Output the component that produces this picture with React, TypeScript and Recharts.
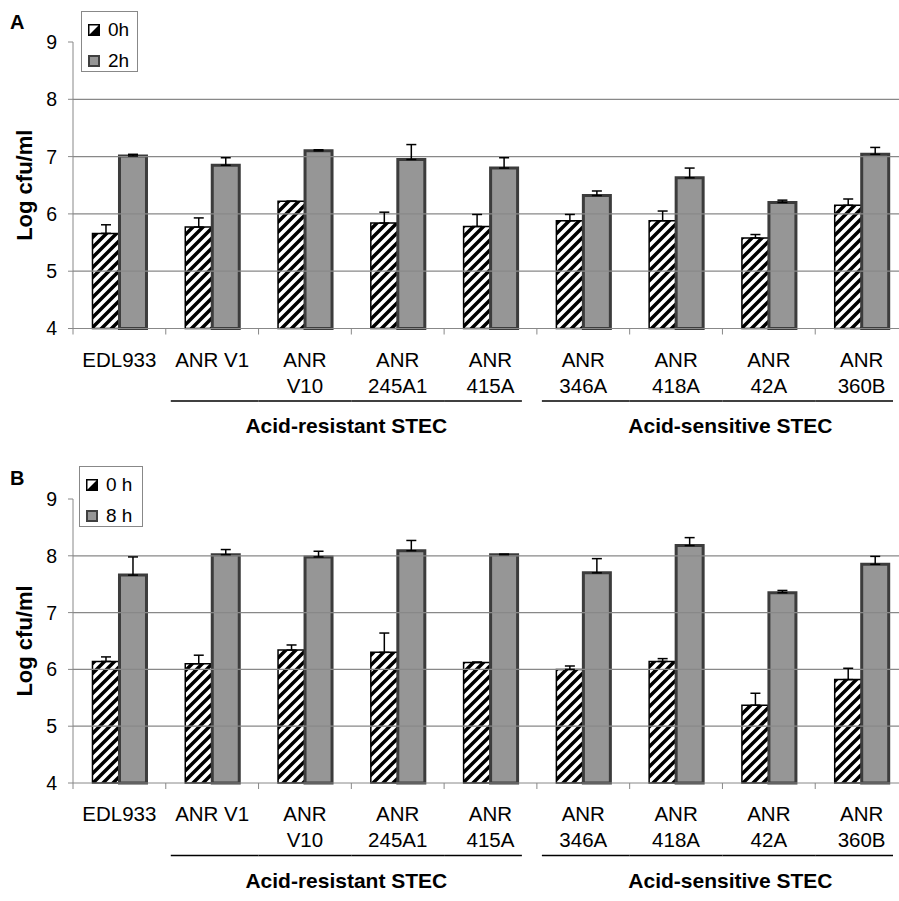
import React from 'react';
import { BarChart, Bar, XAxis, YAxis, ErrorBar, ReferenceLine } from 'recharts';

const categories = ['EDL933', 'ANR V1', 'ANR V10', 'ANR 245A1', 'ANR 415A', 'ANR 346A', 'ANR 418A', 'ANR 42A', 'ANR 360B'];
const tickLabels = ['EDL933', 'ANR V1', 'ANR\nV10', 'ANR\n245A1', 'ANR\n415A', 'ANR\n346A', 'ANR\n418A', 'ANR\n42A', 'ANR\n360B'];
const groups = [
  { name: 'Acid-resistant STEC', from: 1, to: 4 },
  { name: 'Acid-sensitive STEC', from: 5, to: 8 },
];
const yTicks = [4, 5, 6, 7, 8, 9];
const gridValues = [5, 6, 7, 8];

// panel A: 0h vs 2h
const a0h = [5.66, 5.77, 6.22, 5.84, 5.78, 5.88, 5.88, 5.58, 6.15];
const a0hErr = [0.15, 0.16, 0, 0.19, 0.21, 0.11, 0.17, 0.06, 0.11];
const a2h = [7.01, 6.85, 7.1, 6.95, 6.8, 6.32, 6.63, 6.2, 7.04];
const a2hErr = [0.03, 0.13, 0.02, 0.26, 0.18, 0.08, 0.17, 0.04, 0.12];

// panel B: 0h vs 8h
const b0h = [6.14, 6.1, 6.34, 6.3, 6.12, 6.0, 6.14, 5.37, 5.82];
const b0hErr = [0.08, 0.15, 0.09, 0.34, 0.01, 0.06, 0.05, 0.21, 0.2];
const b8h = [7.66, 8.02, 7.98, 8.09, 8.02, 7.7, 8.18, 7.35, 7.85];
const b8hErr = [0.32, 0.09, 0.1, 0.18, 0.01, 0.25, 0.14, 0.04, 0.14];

const CHART_W = 920;
const CHART_H = 450;
const Y_AXIS_W = 73;
const MARGIN_RIGHT = 12;
const STEP = (CHART_W - Y_AXIS_W - MARGIN_RIGHT) / categories.length;
const groupLabelShift = [0, 13];
const FONT = '"Liberation Sans", Arial, sans-serif';

const XTick = (props: any) => {
  const { x, y, index } = props;
  const lines = tickLabels[index].split('\n');
  const left = x - STEP / 2;
  const gi = groups.findIndex((g) => index >= g.from && index <= g.to);
  const g = groups[gi];
  return (
    <g>
      <line x1={left} x2={left} y1={y} y2={y + 6} stroke="#888" />
      {index === categories.length - 1 && <line x1={x + STEP / 2} x2={x + STEP / 2} y1={y} y2={y + 6} stroke="#888" />}
      <text x={x} y={y + 38} textAnchor="middle" fontSize={20.5} fill="#000">
        {lines.map((l: string, i: number) => (
          <tspan key={i} x={x} dy={i === 0 ? 0 : 26}>{l}</tspan>
        ))}
      </text>
      {g && (
        <line
          x1={index === g.from ? left + 5 : left}
          x2={index === g.to ? x + STEP / 2 - 15 : x + STEP / 2}
          y1={y + 72.5}
          y2={y + 72.5}
          stroke="#000"
          strokeWidth={1.5}
        />
      )}
      {g && index === g.from && (
        <text
          x={x + ((g.to - g.from) * STEP) / 2 - 5 + groupLabelShift[gi]}
          y={y + 104.5}
          textAnchor="middle"
          fontSize={21}
          fontWeight="bold"
          fill="#000"
        >
          {g.name}
        </text>
      )}
    </g>
  );
};

const Swatch = ({ hatched }: { hatched: boolean }) => (
  <svg width={12} height={12} style={{ display: 'block' }}>
    {hatched ? (
      <rect x={0.75} y={0.75} width={10.5} height={10.5} fill="url(#hatchSmall)" stroke="#000" strokeWidth={1.5} />
    ) : (
      <rect x={1} y={1} width={10} height={10} fill="#969696" stroke="#404040" strokeWidth={2} />
    )}
  </svg>
);

type PanelProps = {
  letter: string;
  top: number;
  marginTop: number;
  marginBottom: number;
  names: string[];
  early: number[];
  earlyErr: number[];
  late: number[];
  lateErr: number[];
  legendLeft: number;
  legendTop: number;
  legendW: number;
};

function Panel(p: PanelProps) {
  const rows = categories.map((c, i) => ({
    name: c,
    early: p.early[i],
    earlyErr: [0, p.earlyErr[i]],
    late: p.late[i],
    lateErr: [0, p.lateErr[i]],
  }));
  return (
    <div style={{ position: 'absolute', left: 0, top: p.top, width: CHART_W, height: CHART_H }}>
      <BarChart
        width={CHART_W}
        height={CHART_H}
        data={rows}
        margin={{ top: p.marginTop, right: MARGIN_RIGHT, bottom: p.marginBottom, left: 0 }}
        barCategoryGap="21%"
        barGap={0}
      >
        <XAxis
          dataKey="name"
          interval={0}
          height={120}
          axisLine={{ stroke: '#888' }}
          tickLine={false}
          tickSize={0}
          tickMargin={0}
          tick={(t: any) => <XTick {...t} />}
        />
        <YAxis
          domain={[4, 9]}
          ticks={yTicks}
          width={Y_AXIS_W}
          axisLine={{ stroke: '#888' }}
          tickLine={{ stroke: '#888' }}
          tickSize={5}
          tickMargin={11}
          tick={{ fontSize: 19.5, fill: '#000' }}
          label={{ value: 'Log cfu/ml', angle: -90, position: 'center', dx: -12, fontSize: 22, fontWeight: 'bold', fill: '#000' }}
        />
        {gridValues.map((v) => (
          <ReferenceLine key={v} y={v} stroke="#888" strokeWidth={1.2} />
        ))}
        <Bar dataKey="early" name={p.names[0]} fill="url(#hatch)" stroke="#000" strokeWidth={1.5} isAnimationActive={false}>
          <ErrorBar dataKey="earlyErr" width={5} stroke="#000" strokeWidth={1.5} direction="y" />
        </Bar>
        <Bar dataKey="late" name={p.names[1]} fill="#969696" stroke="#3c3c3c" strokeWidth={3} isAnimationActive={false}>
          <ErrorBar dataKey="lateErr" width={5} stroke="#000" strokeWidth={1.5} direction="y" />
        </Bar>
      </BarChart>
      <div style={{ position: 'absolute', left: 10, top: 12, fontSize: 20, lineHeight: '20px', fontWeight: 'bold' }}>{p.letter}</div>
      <div
        style={{
          position: 'absolute',
          left: p.legendLeft,
          top: p.legendTop,
          width: p.legendW,
          height: 61,
          border: '1px solid #888',
          background: '#fff',
          boxSizing: 'border-box',
        }}
      >
        {p.names.map((n, i) => (
          <div
            key={n}
            style={{ position: 'absolute', left: 6, top: 8 + i * 31, height: 20, display: 'flex', alignItems: 'center', gap: 8, fontSize: 19 }}
          >
            <Swatch hatched={i === 0} />
            <span>{n}</span>
          </div>
        ))}
      </div>
    </div>
  );
}

export default function App() {
  return (
    <div style={{ position: 'absolute', left: 0, top: 0, width: 899, height: 901, overflow: 'hidden', background: '#fff', fontFamily: FONT }}>
      <svg width={0} height={0} style={{ position: 'absolute' }}>
        <defs>
          <pattern id="hatch" patternUnits="userSpaceOnUse" width={10} height={10}>
            <rect width={10} height={10} fill="#fff" />
            <path d="M-2.5,2.5 l5,-5 M0,10 l10,-10 M7.5,12.5 l5,-5" stroke="#000" strokeWidth={3.5} />
          </pattern>
          <pattern id="hatchSmall" patternUnits="userSpaceOnUse" width={12} height={12}>
            <rect width={12} height={12} fill="#fff" />
            <path d="M0,12 L12,0 L12,12 Z" fill="#000" />
          </pattern>
        </defs>
      </svg>
      <Panel
        letter="A"
        top={0}
        marginTop={42}
        marginBottom={1.5}
        names={['0h', '2h']}
        early={a0h}
        earlyErr={a0hErr}
        late={a2h}
        lateErr={a2hErr}
        legendLeft={81}
        legendTop={11}
        legendW={57}
      />
      <Panel
        letter="B"
        top={456}
        marginTop={43}
        marginBottom={3}
        names={['0 h', '8 h']}
        early={b0h}
        earlyErr={b0hErr}
        late={b8h}
        lateErr={b8hErr}
        legendLeft={79}
        legendTop={10}
        legendW={64}
      />
    </div>
  );
}
